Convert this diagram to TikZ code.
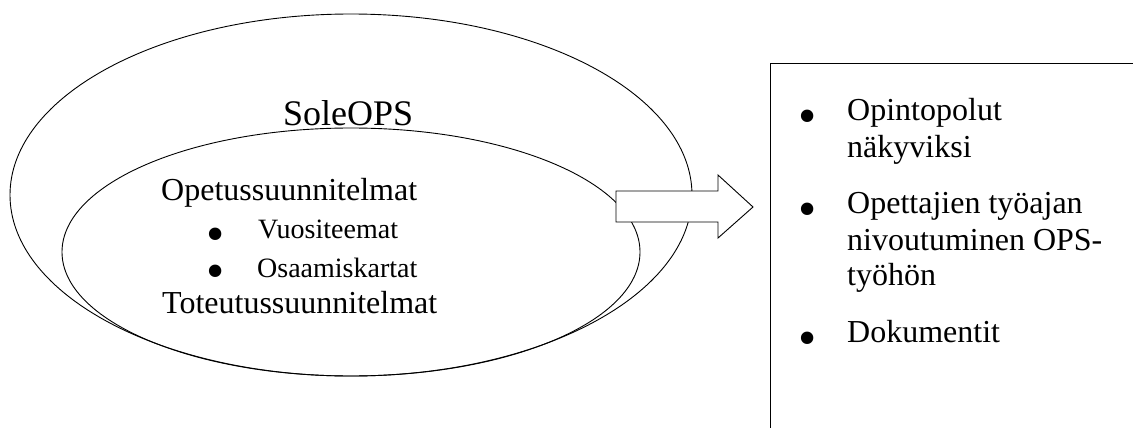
\documentclass[tikz,border=0pt]{standalone}
\usepackage{fontspec}
\setmainfont{Liberation Serif}
\begin{document}
\begin{tikzpicture}[x=1pt,y=-1pt,
  outline/.style={draw=black,line width=0.9pt},
  txt/.style={anchor=base west,inner sep=0pt,font=\fontsize{32}{38}\selectfont},
  subtxt/.style={anchor=base west,inner sep=0pt,font=\fontsize{28}{34}\selectfont},
  bigtxt/.style={anchor=base west,inner sep=0pt,font=\fontsize{36}{42}\selectfont},
  dot/.style={anchor=base,inner sep=0pt,text height=27pt,text depth=0pt,
    font=\fontsize{52}{60}\selectfont}]
\useasboundingbox (0,0) rectangle (1133,428);
\clip (0,0) rectangle (1133,428);

% nested ellipses
\coordinate (outerc) at (351,195);
\coordinate (innerc) at (351,252);
\draw[outline] (outerc) ellipse [x radius=341, y radius=181];
\draw[outline] (innerc) ellipse [x radius=289, y radius=124];

\node[bigtxt] (sole) at (283,125) {SoleOPS};
\node[txt] (ops) at (161,200) {Opetussuunnitelmat};
\node[dot] (d1) at (216,251) {•};
\node[subtxt] (vuosi) at (258,238) {Vuositeemat};
\node[dot] (d2) at (216,288) {•};
\node[subtxt] (osaa) at (257,277) {Osaamiskartat};
\node[txt] (tots) at (162,313) {Toteutussuunnitelmat};

% block arrow
\draw[outline,fill=white] (616,191) -- (718,191) -- (718,175) -- (753,207)
  -- (718,238) -- (718,222) -- (616,222) -- cycle;

% result box
\draw[outline] (770,440) -- (770,63) -- (1140,63);

\node[dot] (b1) at (808,133) {•};
\node[txt] (r1a) at (847,120) {Opintopolut};
\node[txt] (r1b) at (847,157) {näkyviksi};
\node[dot] (b2) at (808,226) {•};
\node[txt] (r2a) at (847,213) {Opettajien työajan};
\node[txt] (r2b) at (847,250) {nivoutuminen OPS-};
\node[txt] (r2c) at (847,285) {työhön};
\node[dot] (b3) at (808,355) {•};
\node[txt] (r3) at (847,342) {Dokumentit};
\end{tikzpicture}
\end{document}
